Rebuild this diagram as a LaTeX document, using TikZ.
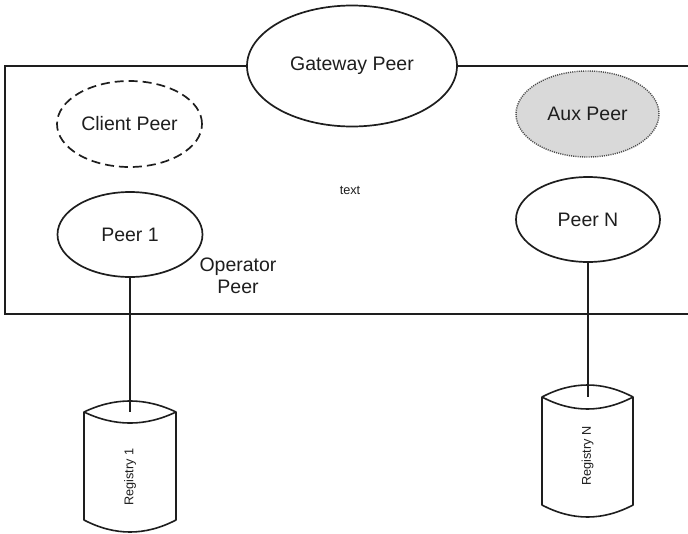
\documentclass[tikz,border=0pt]{standalone}
\usepackage{fontspec}
\setmainfont{Liberation Sans}
\usetikzlibrary{shapes.geometric}
\definecolor{ink}{HTML}{1E1E1E}
\definecolor{auxfill}{HTML}{D9D9D9}
\begin{document}
\begin{tikzpicture}[x=1pt,y=-1pt,
  peer/.style={ellipse, draw=ink, line width=1.7pt, inner sep=0pt, outer sep=0pt,
    font=\fontsize{19.5}{22.5}\selectfont, text=ink},
  lbl/.style={font=\fontsize{19.5}{22.5}\selectfont, text=ink, inner sep=0pt},
  small/.style={font=\fontsize{12.7}{15}\selectfont, text=ink, inner sep=0pt},
  wire/.style={draw=ink, line width=1.8pt},
  regbody/.style={draw=ink, line width=1.6pt, fill=white, line join=round}]
\useasboundingbox (0,0) rectangle (688,533);
\fill[white] (0,0) rectangle (688,533);

% peers
\node[peer, minimum width=210pt, minimum height=121pt] (gw) at (352,66) {Gateway Peer};
\node[peer, dash pattern=on 9pt off 5pt, minimum width=145pt, minimum height=86pt] (client) at (129.5,124) {Client Peer};
\node[peer, fill=auxfill, draw=ink!80, line width=1.4pt, dash pattern=on 1.1pt off 1.1pt,
  minimum width=143pt, minimum height=86pt] (aux) at (587.5,114) {Aux Peer};
\node[peer, minimum width=145pt, minimum height=85pt] (p1) at (130,234.5) {Peer 1};
\node[peer, minimum width=144pt, minimum height=85pt] (pn) at (588,219.5) {Peer N};

\node[small] (txt) at (350,190) {text};
\node[lbl, align=center] (op) at (238,276) {Operator\\Peer};

% operator rectangle (open to the right edge)
\coordinate (tl) at (5,66);
\coordinate (bl) at (5,314);
\coordinate (br) at (688,314);
\coordinate (tr) at (688,66);
\draw[wire] (gw.west) -- (tl) -- (bl) -- (br);
\draw[wire] (gw.east) -- (tr);

% registry 1
\draw[regbody] (84,412) .. controls (114.7,397.3) and (145.3,397.3) .. (176,412)
  -- (176,520) .. controls (145.3,536) and (114.7,536) .. (84,520) -- cycle;
\draw[ink, line width=1.6pt] (84,412) .. controls (114.7,426.7) and (145.3,426.7) .. (176,412);
\coordinate (r1top) at (130,412);
\node[small, rotate=90] (r1) at (130,477) {Registry 1};

% registry N
\draw[regbody] (542,397) .. controls (572.3,381) and (602.7,381) .. (633,397)
  -- (633,505) .. controls (602.7,521) and (572.3,521) .. (542,505) -- cycle;
\draw[ink, line width=1.6pt] (542,397) .. controls (572.3,413) and (602.7,413) .. (633,397);
\coordinate (rntop) at (588,397);
\node[small, rotate=90] (rn) at (587.5,456) {Registry N};

% connectors
\draw[wire] (p1) -- (r1top);
\draw[wire] (pn) -- (rntop);
\end{tikzpicture}
\end{document}
